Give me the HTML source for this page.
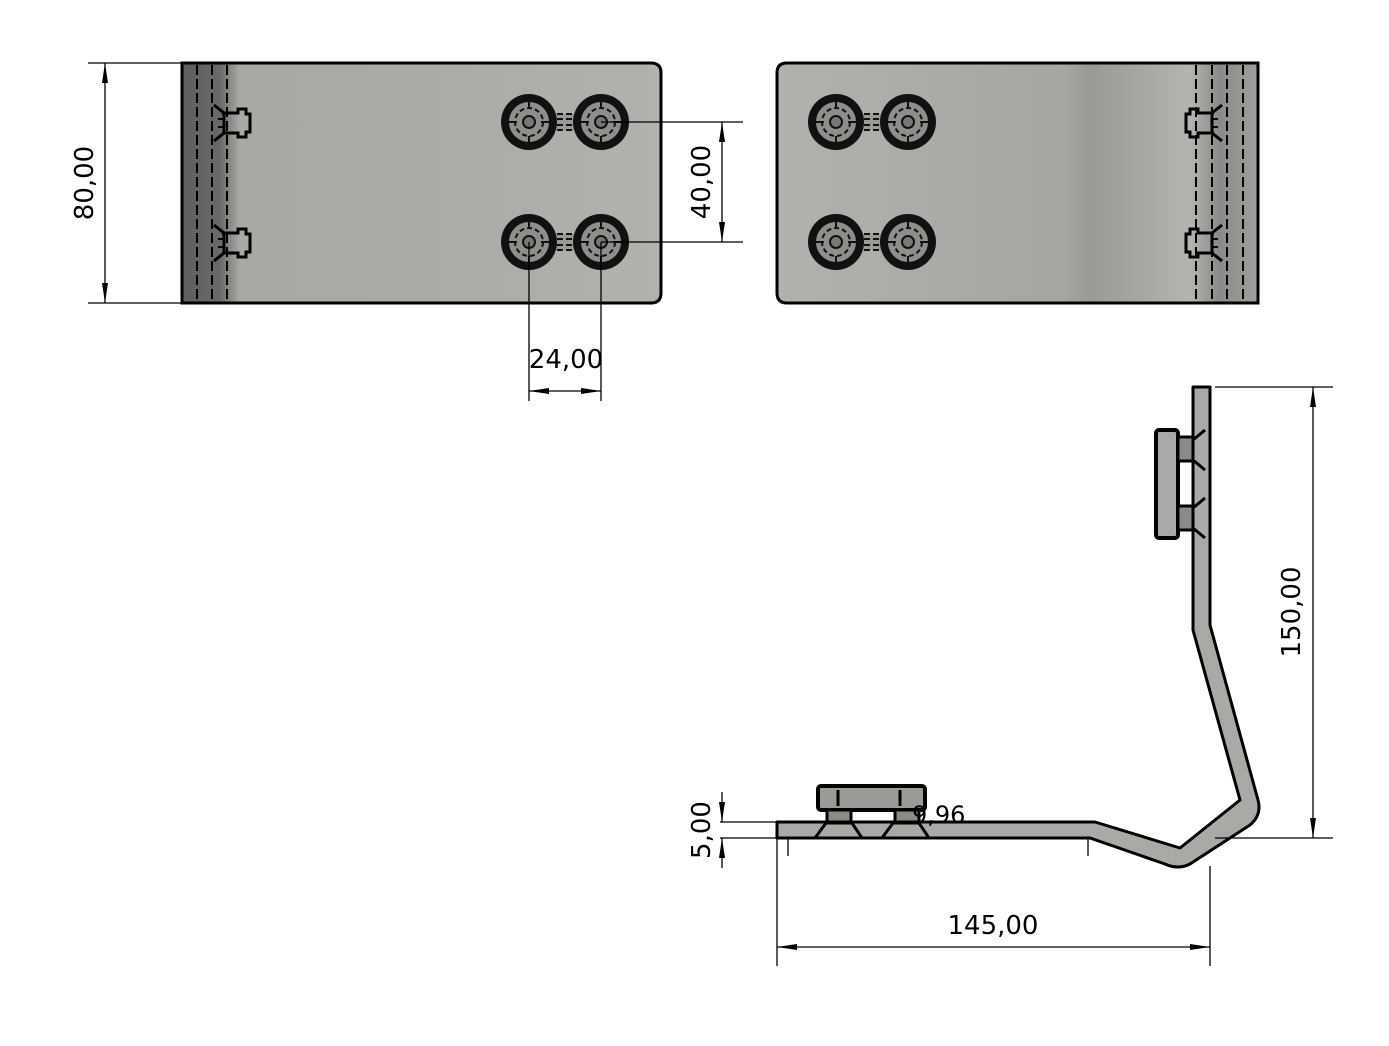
<!DOCTYPE html>
<html><head><meta charset="utf-8"><style>
html,body{margin:0;padding:0;background:#fff;}
svg{display:block;font-family:"DejaVu Sans","Liberation Sans",sans-serif;}
</style></head><body>
<svg width="1389" height="1046" viewBox="0 0 1389 1046" xmlns="http://www.w3.org/2000/svg">
<defs>
<linearGradient id="gl" x1="0" x2="1" y1="0" y2="0">
<stop offset="0" stop-color="#5e5e5c"/><stop offset="0.08" stop-color="#6a6a68"/><stop offset="0.12" stop-color="#a8a8a4"/><stop offset="0.5" stop-color="#abaaa6"/><stop offset="1" stop-color="#b2b1ad"/>
</linearGradient>
<linearGradient id="gr" x1="0" x2="1" y1="0" y2="0">
<stop offset="0" stop-color="#b2b1ad"/><stop offset="0.6" stop-color="#a6a5a1"/><stop offset="0.65" stop-color="#9a9996"/><stop offset="0.86" stop-color="#b5b4b0"/><stop offset="0.92" stop-color="#8a8a88"/><stop offset="1" stop-color="#a0a09c"/>
</linearGradient>
<marker id="a" viewBox="0 0 20 6" refX="20" refY="3" markerWidth="20" markerHeight="6" orient="auto-start-reverse" markerUnits="userSpaceOnUse"><path d="M0,0 L20,3 L0,6z" fill="#000"/></marker>
<g id="hole"><circle r="28" fill="#111"/><circle r="21" fill="#8e8e8b" stroke="#111" stroke-width="2"/><circle r="14" fill="none" stroke="#111" stroke-width="2" stroke-dasharray="5,3"/><circle r="6" fill="#777" stroke="#111" stroke-width="2"/><path d="M-20,0 h8 M12,0 h8 M0,-20 v6 M0,14 v6" stroke="#111" stroke-width="2"/></g>
<g id="clip"><path d="M-12,-18 L-2,-10 L-2,10 L-12,18" fill="none" stroke="#000" stroke-width="3"/><path d="M-4,-10 h16 v-4 h8 v5 h4 v18 h-4 v5 h-8 v-4 h-16" fill="none" stroke="#000" stroke-width="3"/><path d="M-8,-4 h6 M-8,4 h6" stroke="#000" stroke-width="2"/></g>
<g id="bar"><rect x="-17" y="-8" width="34" height="16" fill="#9a9a97"/><path d="M-17,-8 h34 M-17,8 h34 M-17,-3 h34 M-17,3 h34" stroke="#111" stroke-width="2" stroke-dasharray="6,3"/></g>
</defs>
<!-- left plate -->
<path d="M182,63 H651 Q661,63 661,73 V293 Q661,303 651,303 H182 Z" fill="url(#gl)" stroke="#000" stroke-width="3"/>
<g stroke="#000" stroke-width="2" stroke-dasharray="10,4"><line x1="197" y1="65" x2="197" y2="301"/><line x1="212" y1="65" x2="212" y2="301"/><line x1="227" y1="65" x2="227" y2="301"/></g>
<use href="#clip" x="226" y="123"/><use href="#clip" x="226" y="243"/>
<use href="#bar" x="565" y="122"/><use href="#bar" x="565" y="242"/>
<use href="#hole" x="529" y="122"/><use href="#hole" x="601" y="122"/><use href="#hole" x="529" y="242"/><use href="#hole" x="601" y="242"/>
<!-- right plate -->
<path d="M787,63 H1258 V303 H787 Q777,303 777,293 V73 Q777,63 787,63 Z" fill="url(#gr)" stroke="#000" stroke-width="3"/>
<g stroke="#000" stroke-width="2" stroke-dasharray="10,4"><line x1="1196" y1="65" x2="1196" y2="301"/><line x1="1212" y1="65" x2="1212" y2="301"/><line x1="1227" y1="65" x2="1227" y2="301"/><line x1="1243" y1="65" x2="1243" y2="301"/></g>
<g transform="translate(1390,0) scale(-1,1)"><use href="#clip" x="180" y="123"/><use href="#clip" x="180" y="243"/></g>
<use href="#bar" x="872" y="122"/><use href="#bar" x="872" y="242"/>
<use href="#hole" x="836" y="122"/><use href="#hole" x="908" y="122"/><use href="#hole" x="836" y="242"/><use href="#hole" x="908" y="242"/>
<!-- dims top -->
<g stroke="#000" stroke-width="1.3" fill="none">
<line x1="88" y1="63" x2="182" y2="63"/><line x1="88" y1="303" x2="182" y2="303"/>
<line x1="105" y1="63" x2="105" y2="303" marker-start="url(#a)" marker-end="url(#a)"/>
<line x1="601" y1="122" x2="743" y2="122"/><line x1="601" y1="242" x2="743" y2="242"/>
<line x1="722" y1="122" x2="722" y2="242" marker-start="url(#a)" marker-end="url(#a)"/>
<line x1="529" y1="242" x2="529" y2="401"/><line x1="601" y1="242" x2="601" y2="401"/>
<line x1="529" y1="391" x2="601" y2="391" marker-start="url(#a)" marker-end="url(#a)"/>
</g>
<g font-size="26" fill="#000">
<text transform="translate(93,183) rotate(-90)" text-anchor="middle">80,00</text>
<text transform="translate(710,182) rotate(-90)" text-anchor="middle">40,00</text>
<text x="566" y="368" text-anchor="middle">24,00</text>
</g>
<!-- side view -->
<path d="M777,822 H1095 L1180,848 L1240,800 L1193,630 V387 H1210 V625 L1258,800 Q1262,815 1250,825 L1190,864 Q1178,870 1165,864 L1090,838 H777 Z" fill="#a9a9a5" stroke="#000" stroke-width="3" stroke-linejoin="round"/>
<rect x="1156" y="430" width="22" height="108" rx="3" fill="#a9a9a5" stroke="#000" stroke-width="4"/>
<rect x="1178" y="437" width="15" height="24" fill="#8a8a88" stroke="#000" stroke-width="3"/>
<rect x="1178" y="506" width="15" height="24" fill="#8a8a88" stroke="#000" stroke-width="3"/>
<path d="M1193,440 L1205,430 M1193,460 L1205,470 M1193,508 L1205,498 M1193,528 L1205,538" stroke="#000" stroke-width="3"/>
<rect x="818" y="786" width="107" height="24" rx="3" fill="#9a9a97" stroke="#000" stroke-width="4"/>
<path d="M838,790 v16 M900,790 v16" stroke="#000" stroke-width="3"/>
<rect x="827" y="810" width="24" height="12" fill="#8a8a88" stroke="#000" stroke-width="3"/>
<rect x="895" y="810" width="24" height="12" fill="#8a8a88" stroke="#000" stroke-width="3"/>
<path d="M815,838 L826,823 H852 L862,838 M882,838 L893,823 H919 L929,838" fill="none" stroke="#000" stroke-width="3"/>
<g stroke="#000" stroke-width="1.3" fill="none">
<line x1="1215" y1="387" x2="1333" y2="387"/><line x1="1215" y1="838" x2="1333" y2="838"/>
<line x1="1313" y1="387" x2="1313" y2="838" marker-start="url(#a)" marker-end="url(#a)"/>
<line x1="777" y1="838" x2="777" y2="966"/><line x1="1210" y1="866" x2="1210" y2="966"/>
<line x1="777" y1="947" x2="1210" y2="947" marker-start="url(#a)" marker-end="url(#a)"/>
<line x1="720" y1="822" x2="777" y2="822"/><line x1="720" y1="838" x2="777" y2="838"/>
<line x1="722" y1="792" x2="722" y2="822" marker-end="url(#a)"/><line x1="722" y1="868" x2="722" y2="838" marker-end="url(#a)"/>
<line x1="788" y1="838" x2="788" y2="856"/><line x1="1088" y1="838" x2="1088" y2="856"/>
</g>
<g font-size="26" fill="#000">
<text transform="translate(1300,612) rotate(-90)" text-anchor="middle">150,00</text>
<text x="993" y="934" text-anchor="middle">145,00</text>
<text transform="translate(710,830) rotate(-90)" text-anchor="middle">5,00</text>
<text x="912" y="823" font-size="24">9,96</text>
</g>
</svg>
</body></html>
